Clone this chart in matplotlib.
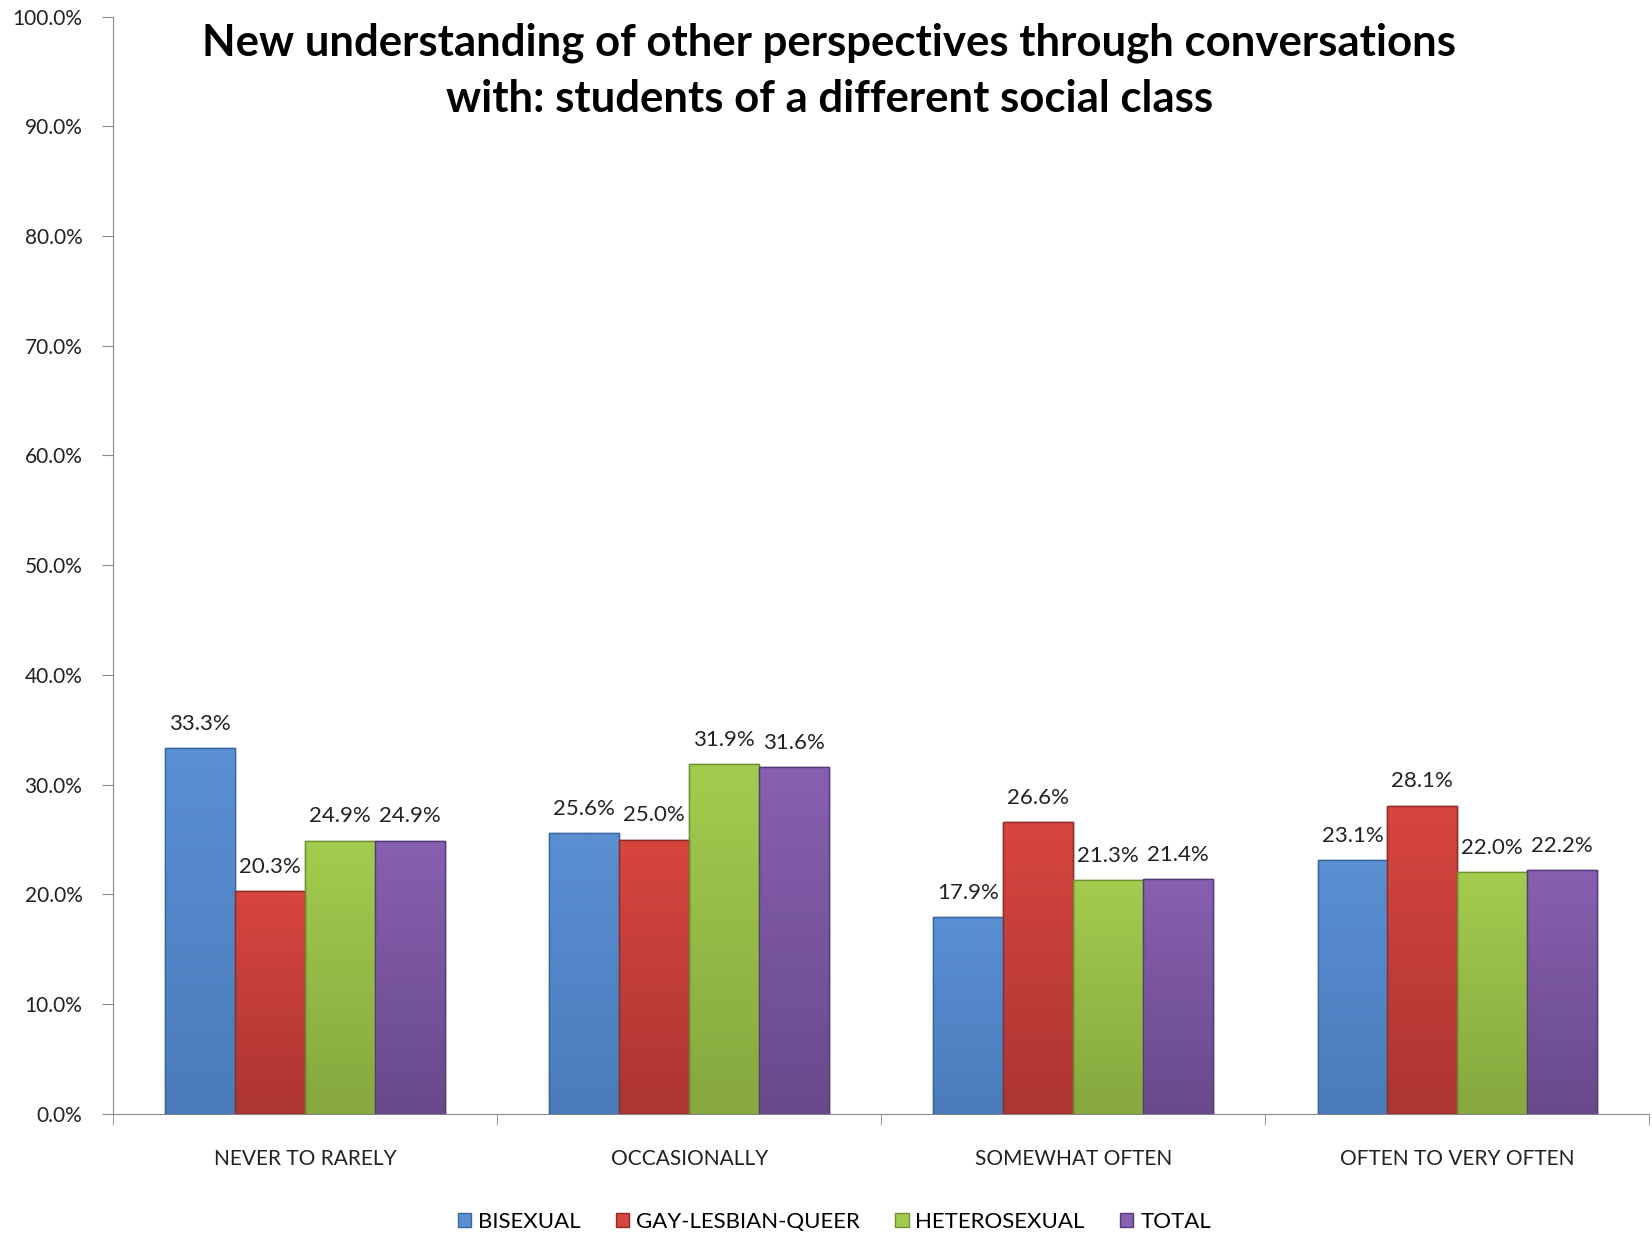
import numpy as np
import matplotlib
matplotlib.use("Agg")
import matplotlib.pyplot as plt
from matplotlib.colors import to_rgb
from matplotlib.ticker import FuncFormatter, FixedLocator

categories = ["NEVER TO RARELY", "OCCASIONALLY", "SOMEWHAT OFTEN", "OFTEN TO VERY OFTEN"]
series = ["BISEXUAL", "GAY-LESBIAN-QUEER", "HETEROSEXUAL", "TOTAL"]
bisexual = [33.3, 25.6, 17.9, 23.1]
gay_lesbian_queer = [20.3, 25.0, 26.6, 28.1]
heterosexual = [24.9, 31.9, 21.3, 22.0]
total = [24.9, 31.6, 21.4, 22.2]
values = [bisexual, gay_lesbian_queer, heterosexual, total]

# top / bottom shades (Office 2007 style gradient bars)
tops = ["#5A8FD2", "#D7453F", "#A2CC4E", "#8760B0"]
bottoms = ["#4A7CBC", "#AD3532", "#86A83F", "#684A8C"]
edges = ["#3A679E", "#8E2A28", "#6F8F32", "#55397A"]

plt.rcParams["font.family"] = ["Lato", "DejaVu Sans"]

fig = plt.figure(figsize=(16.52, 12.33), dpi=100)
ax = fig.add_axes([0.0684, 0.0966, 0.930, 0.890])

x = np.arange(len(categories))
n = len(series)
bw = 0.182
for i, (name, vals) in enumerate(zip(series, values)):
    pos = x + (i - (n - 1) / 2) * bw
    bars = ax.bar(pos, vals, width=bw, color=tops[i], edgecolor=edges[i],
                  linewidth=1.0, label=name, zorder=3)
    t, b = np.array(to_rgb(tops[i])), np.array(to_rgb(bottoms[i]))
    grad = np.linspace(0, 1, 64)[:, None, None] * (t - b) + b
    grad = np.repeat(grad, 2, axis=1)
    for bar, px, v in zip(bars, pos, vals):
        im = ax.imshow(grad, extent=(px - bw / 2, px + bw / 2, 0, v),
                       origin="lower", aspect="auto", zorder=3.5,
                       interpolation="bilinear")
        im.set_clip_path(bar)
        ax.bar(px, v, width=bw, fill=False, edgecolor=edges[i], linewidth=1.0, zorder=4)
        ax.text(px, v + 1.3, f"{v:.1f}%", ha="center", va="bottom",
                fontsize=16, color="#222222")

ax.set_xlim(-0.5, len(categories) - 0.5)
ax.set_ylim(0, 100)
ax.set_aspect("auto")
ax.yaxis.set_major_locator(FixedLocator(np.arange(0, 101, 10)))
ax.yaxis.set_major_formatter(FuncFormatter(lambda v, p: f"{v:.1f}%"))
ax.set_xticks(x)
ax.set_xticklabels(categories)
ax.xaxis.set_minor_locator(FixedLocator(np.arange(-0.5, len(categories), 1.0)))
ax.tick_params(axis="x", which="major", length=0, pad=25, labelsize=15, colors="#222222")
ax.tick_params(axis="x", which="minor", length=8, color="#888888", direction="out")
ax.tick_params(axis="y", length=8, color="#888888", labelsize=15, labelcolor="#222222", pad=14)

for s in ["top", "right"]:
    ax.spines[s].set_visible(False)
ax.spines["left"].set_color("#888888")
ax.spines["bottom"].set_color("#888888")

fig.text(0.502, 0.982, "New understanding of other perspectives through conversations\nwith: students of a different social class",
         ha="center", va="top", fontsize=31.5, fontweight="bold", linespacing=1.5)

fig.legend(loc="center", bbox_to_anchor=(0.505, 0.009), ncol=4, frameon=False,
           fontsize=16, handlelength=0.6, handleheight=0.6, handletextpad=0.3,
           columnspacing=1.6)

fig.savefig("out.png", dpi=100)
